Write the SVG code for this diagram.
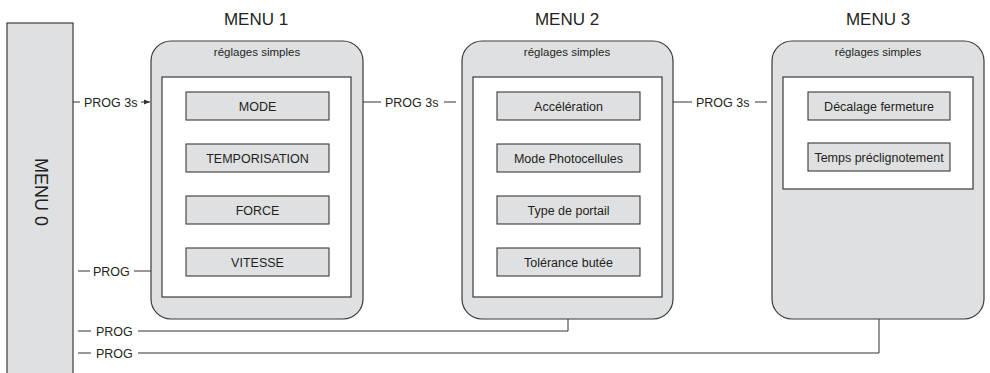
<svg xmlns="http://www.w3.org/2000/svg" width="990" height="373" viewBox="0 0 990 373">
<defs>
<marker id="arr" markerWidth="6" markerHeight="6" refX="6" refY="3" orient="auto" markerUnits="userSpaceOnUse">
<path d="M0,0.5 L6,3 L0,5.5 Z" fill="#333"/>
</marker>
</defs>
<style>
text{font-family:"Liberation Sans",Arial,sans-serif;fill:#231f20}
.title{font-size:17px;text-anchor:middle}
.sub{font-size:11.5px;text-anchor:middle}
.item{font-size:12.5px;text-anchor:middle}
.lbl{font-size:12.5px}
.outer{fill:#dfe0e2;stroke:#3a3a3a;stroke-width:1.2}
.inner{fill:#fff;stroke:#3a3a3a;stroke-width:1.2}
.box{fill:#dfe0e2;stroke:#3a3a3a;stroke-width:1.1}
.ln{fill:none;stroke:#333;stroke-width:1}
</style>
<rect width="990" height="373" fill="#fff"/>

<g id="menu0">
<rect x="7" y="23" width="66" height="360" class="outer"/>
<text class="title" style="font-size:18px" transform="translate(35,192) rotate(90)">MENU 0</text>
</g>

<g id="menu1">
<text class="title" x="256" y="25">MENU 1</text>
<rect x="151" y="41" width="212" height="278" rx="20" class="outer"/>
<text class="sub" x="257" y="56">réglages simples</text>
<rect x="162" y="77" width="189" height="220" class="inner"/>
<rect x="186" y="92" width="143" height="28" class="box"/>
<text class="item" x="257.5" y="110.5">MODE</text>
<rect x="186" y="144" width="143" height="28" class="box"/>
<text class="item" x="257.5" y="162.5">TEMPORISATION</text>
<rect x="186" y="196" width="143" height="28" class="box"/>
<text class="item" x="257.5" y="214.5">FORCE</text>
<rect x="186" y="248" width="143" height="28" class="box"/>
<text class="item" x="257.5" y="266.5">VITESSE</text>
</g>

<g id="menu2">
<text class="title" x="567" y="25">MENU 2</text>
<rect x="462" y="41" width="211" height="278" rx="20" class="outer"/>
<text class="sub" x="567" y="56">réglages simples</text>
<rect x="473" y="77" width="189" height="220" class="inner"/>
<rect x="497" y="92" width="143" height="28" class="box"/>
<text class="item" x="568.5" y="110.5">Accélération</text>
<rect x="497" y="144" width="143" height="28" class="box"/>
<text class="item" x="568.5" y="162.5">Mode Photocellules</text>
<rect x="497" y="196" width="143" height="28" class="box"/>
<text class="item" x="568.5" y="214.5">Type de portail</text>
<rect x="497" y="248" width="143" height="28" class="box"/>
<text class="item" x="568.5" y="266.5">Tolérance butée</text>
</g>

<g id="menu3">
<text class="title" x="878" y="25">MENU 3</text>
<rect x="772" y="41" width="212" height="278" rx="20" class="outer"/>
<text class="sub" x="878" y="56">réglages simples</text>
<rect x="783" y="77" width="190" height="112" class="inner"/>
<rect x="808" y="92" width="142" height="28" class="box"/>
<text class="item" x="879" y="110.5">Décalage fermeture</text>
<rect x="808" y="143" width="142" height="28" class="box"/>
<text class="item" x="879" y="161.5">Temps préclignotement</text>
</g>

<g id="connectors">
<line class="ln" x1="73" y1="102" x2="80" y2="102"/>
<text class="lbl" x="84" y="106.5">PROG 3s</text>
<line class="ln" x1="141" y1="102" x2="150" y2="102" marker-end="url(#arr)"/>

<line class="ln" x1="363" y1="102" x2="381" y2="102"/>
<text class="lbl" x="385" y="106.5">PROG 3s</text>
<line class="ln" x1="444" y1="102" x2="456" y2="102"/>

<line class="ln" x1="673" y1="102" x2="692" y2="102"/>
<text class="lbl" x="696" y="106.5">PROG 3s</text>
<line class="ln" x1="755" y1="102" x2="767" y2="102"/>

<line class="ln" x1="78" y1="271" x2="90" y2="271"/>
<text class="lbl" x="93" y="275.5">PROG</text>
<line class="ln" x1="134" y1="271" x2="151" y2="271"/>

<line class="ln" x1="78" y1="331" x2="91" y2="331"/>
<text class="lbl" x="96" y="335.5">PROG</text>
<polyline class="ln" points="138,331 568,331 568,319"/>

<line class="ln" x1="78" y1="353" x2="91" y2="353"/>
<text class="lbl" x="96" y="357.5">PROG</text>
<polyline class="ln" points="138,353 879,353 879,319"/>
</g>
</svg>
